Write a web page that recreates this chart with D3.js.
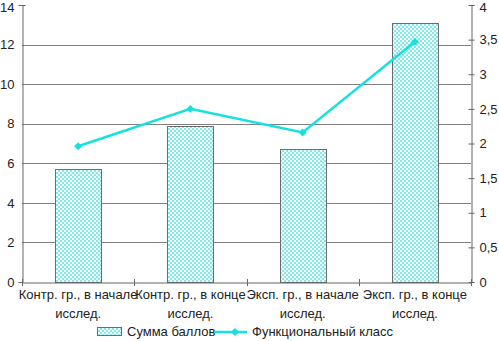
<!DOCTYPE html>
<html><head><meta charset="utf-8">
<script src="https://cdn.jsdelivr.net/npm/d3@7"></script>
<style>body{margin:0;background:#fff}svg{display:block;font-family:"Liberation Sans",Arial,sans-serif}</style>
</head><body><svg id="c" width="499" height="341"></svg>
<script>
const categories = [["Контр. гр., в начале","исслед."],["Контр. гр., в конце","исслед."],["Эксп. гр., в начале","исслед."],["Эксп. гр., в конце","исслед."]];
const barValues = [5.7, 7.9, 6.7, 13.1];
const lineValues = [1.96, 2.5, 2.16, 3.47];
const leftTicks = [0,2,4,6,8,10,12,14];
const rightTicks = [0,0.5,1,1.5,2,2.5,3,3.5,4];
const legendLabels = ["Сумма баллов","Функциональный класс"];

const svg = d3.select("#c");
const L = 22, R = 471, T = 5, B = 282;
const x = d3.scaleBand().domain(d3.range(categories.length)).range([L, R]);
const yL = d3.scaleLinear().domain([0,14]).range([B, T]);
const yR = d3.scaleLinear().domain([0,4]).range([B, T]);

const defs = svg.append("defs");
const pat = defs.append("pattern").attr("id","chk").attr("width",4).attr("height",4).attr("patternUnits","userSpaceOnUse");
pat.append("rect").attr("width",4).attr("height",4).attr("fill","#f2fefe");
pat.append("rect").attr("width",2).attr("height",2).attr("fill","#86e8e8");
pat.append("rect").attr("x",2).attr("y",2).attr("width",2).attr("height",2).attr("fill","#86e8e8");

// gridlines
svg.append("g").selectAll("line").data(leftTicks.filter(d=>d>0 && d<14)).join("line")
  .attr("x1",L).attr("x2",R).attr("y1",d=>Math.round(yL(d))+0.5).attr("y2",d=>Math.round(yL(d))+0.5)
  .attr("stroke","#808080").attr("stroke-width",1);

// bars
const bw = 46;
svg.append("g").selectAll("rect").data(barValues).join("rect")
  .attr("x",(d,i)=>Math.round(x(i)+x.bandwidth()/2-bw/2)+0.5)
  .attr("y",d=>Math.round(yL(d))+0.5)
  .attr("width",bw).attr("height",d=>B-Math.round(yL(d)))
  .attr("fill","url(#chk)").attr("stroke","#6d6d6d").attr("stroke-width",1);

// axes
const axisColor = "#666";
const gL = svg.append("g").attr("transform",`translate(${L+0.5},0)`)
  .call(d3.axisLeft(yL).tickValues(leftTicks).tickSize(4).tickPadding(4).tickFormat(d3.format("d")));
const gR = svg.append("g").attr("transform",`translate(${R+0.5},0)`)
  .call(d3.axisRight(yR).tickValues(rightTicks).tickSize(3).tickPadding(5).tickFormat(d=>String(d).replace(".",",")));
gR.selectAll(".tick line").attr("x1",-3);
gL.selectAll(".tick line").attr("x2",d=>d===14?3:0);
const gB = svg.append("g").attr("transform",`translate(0,${B+0.5})`)
  .call(d3.axisBottom(x).tickValues([]).tickSize(0));
[gL,gR,gB].forEach(g=>{
  g.select(".domain").attr("stroke",axisColor);
  g.selectAll(".tick line").attr("stroke",axisColor);
  g.selectAll("text").attr("font-size",13).attr("fill","#222").attr("font-family","Liberation Sans, Arial, sans-serif");
});
gL.selectAll(".tick text").filter(d=>d===14).attr("dy","0.32em").attr("y",2);
gR.selectAll(".tick text").filter(d=>d===4).attr("dy","0.32em").attr("y",2);
// category boundary ticks
const bounds = d3.range(categories.length+1).map(i=> i<categories.length ? x(i) : R);
svg.append("g").selectAll("line").data(bounds).join("line")
  .attr("x1",d=>Math.round(d)+0.5).attr("x2",d=>Math.round(d)+0.5)
  .attr("y1",B-3).attr("y2",B+4).attr("stroke",axisColor);

// category labels
const cl = svg.append("g").attr("font-size",13).attr("fill","#222").attr("text-anchor","middle");
categories.forEach((lines,i)=>{
  const t = cl.append("text").attr("x",x(i)+x.bandwidth()/2).attr("y",299);
  lines.forEach((s,j)=>t.append("tspan").attr("x",x(i)+x.bandwidth()/2).attr("dy",j?19:0).text(s));
});

// line series
const lineColor = "#19e0e0";
const cx = i=>x(i)+x.bandwidth()/2;
svg.append("path").datum(lineValues)
  .attr("d",d3.line().x((d,i)=>cx(i)).y(d=>yR(d)))
  .attr("fill","none").attr("stroke",lineColor).attr("stroke-width",2.5);
svg.append("g").selectAll("path").data(lineValues).join("path")
  .attr("transform",(d,i)=>`translate(${cx(i)},${yR(d)})`)
  .attr("d",d3.symbol(d3.symbolDiamond2,40))
  .attr("fill",lineColor);

// legend
const lg = svg.append("g").attr("font-size",13).attr("fill","#222");
lg.append("rect").attr("x",97.5).attr("y",327.5).attr("width",24).attr("height",8)
  .attr("fill","url(#chk)").attr("stroke","#6d6d6d");
lg.append("text").attr("x",127).attr("y",336).text(legendLabels[0]);
lg.append("line").attr("x1",214).attr("x2",247).attr("y1",332).attr("y2",332).attr("stroke",lineColor).attr("stroke-width",2.5);
lg.append("path").attr("transform","translate(235,332)").attr("d",d3.symbol(d3.symbolDiamond2,40)).attr("fill",lineColor);
lg.append("text").attr("x",252).attr("y",336).text(legendLabels[1]);
</script></body></html>
